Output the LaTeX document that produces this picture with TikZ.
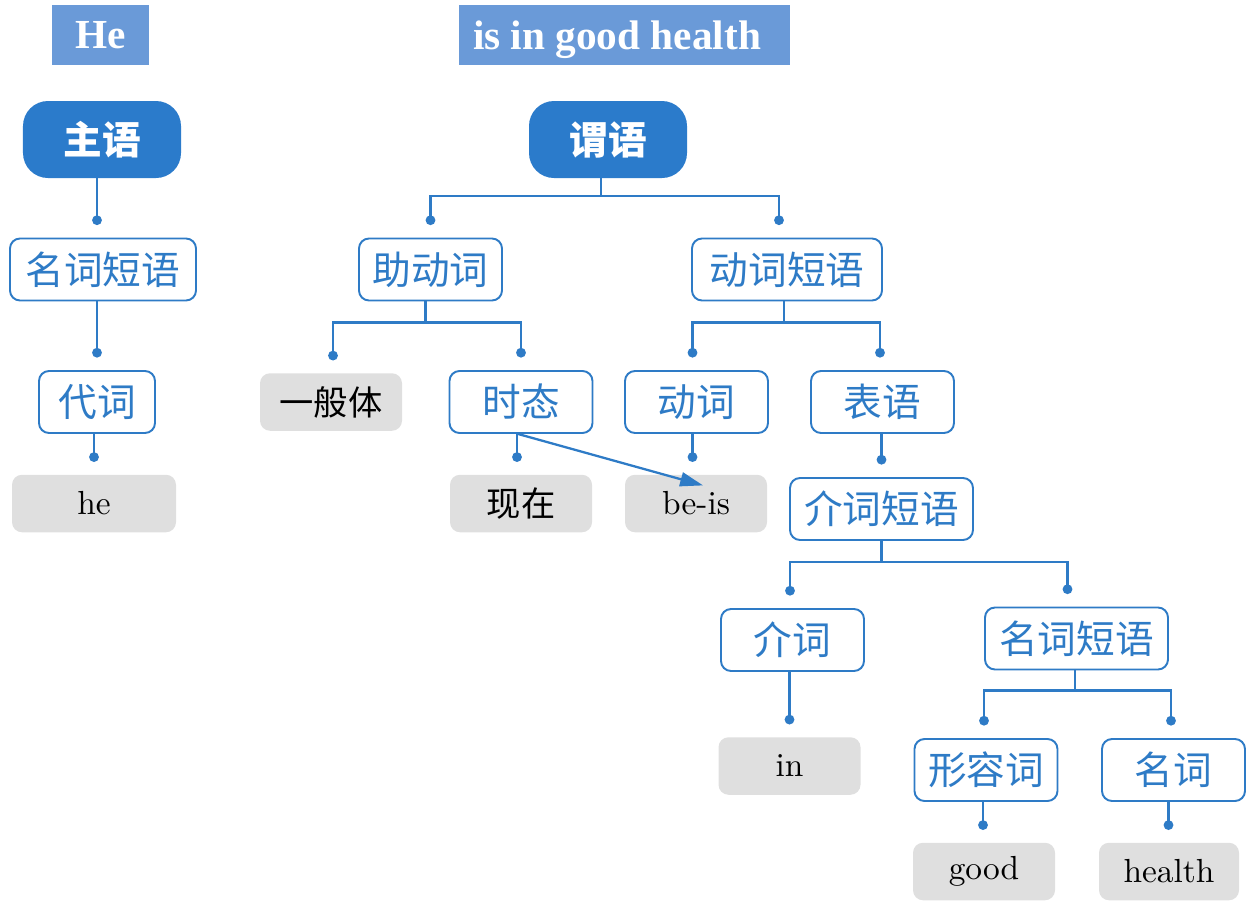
\documentclass[tikz,border=0pt]{standalone}
\usepackage{fontspec}
\usepackage{xcolor}
\usetikzlibrary{arrows.meta}
\newfontfamily\cjk{Noto Sans CJK SC}
\newfontfamily\headfont{Liberation Serif}
\newfontfamily\leaffont{lmroman10-regular}[Extension=.otf]
\definecolor{treeblue}{HTML}{2E7BC6}
\definecolor{darkblue}{HTML}{2B7BCB}
\definecolor{headblue}{HTML}{6A9AD8}
\definecolor{leafgray}{HTML}{DFDFDF}

\begin{document}
\begin{tikzpicture}[
    header/.style={fill=headblue, text=white, minimum height=1.2cm, inner sep=0pt, text depth=0pt,
      font=\headfont\bfseries\fontsize{23.5}{25}\selectfont},
    rootbox/.style={fill=darkblue, text=white, rounded corners=0.5cm, minimum width=3.16cm,
      minimum height=1.54cm, inner sep=0pt, font=\cjk\bfseries\fontsize{22}{24}\selectfont},
    catbox/.style={draw=treeblue, line width=1.1pt, fill=white, text=treeblue, rounded corners=0.2cm,
      minimum width=2.86cm, minimum height=1.24cm, inner sep=0pt, font=\cjk\fontsize{22}{24}\selectfont},
    leafbox/.style={fill=leafgray, text=black, rounded corners=0.2cm, minimum width=2.84cm,
      minimum height=1.15cm, inner sep=0pt, font=\leaffont\fontsize{19}{21}\selectfont},
    cnleaf/.style={leafbox, font=\cjk\fontsize{19.5}{21}\selectfont},
    conn/.style={draw=treeblue, line width=1.3pt, shorten >=0.25cm, -{Circle[length=5.5pt]}},
  ]
  \useasboundingbox (0,0) rectangle (25.14,-18.18);
  % Headers
  \node[header, minimum width=1.94cm] (hdrhe) at (2.01,-0.70) {He};
  \node[header, text width=6.06cm, inner xsep=0.28cm, align=flush left] (hdrpred) at (12.49,-0.70) {is in good health};
  % Subject side
  \node[rootbox] (zhuyu) at (2.04,-2.79) {主语};
  \node[catbox, minimum width=3.72cm] (mcdyA) at (2.06,-5.39) {名词短语};
  \node[catbox, minimum width=2.32cm] (daici) at (1.94,-8.04) {代词};
  \node[leafbox, minimum width=3.28cm] (he) at (1.88,-10.07) {he};
  % Predicate side
  \node[rootbox] (weiyu) at (12.16,-2.79) {谓语};
  \node[catbox] (zhudongci) at (8.61,-5.39) {助动词};
  \node[catbox, minimum width=3.80cm] (dcdy) at (15.74,-5.39) {动词短语};
  \node[cnleaf] (yibanti) at (6.62,-8.04) {一般体};
  \node[catbox] (shitai) at (10.42,-8.04) {时态};
  \node[catbox] (dongci) at (13.93,-8.04) {动词};
  \node[catbox] (biaoyu) at (17.65,-8.04) {表语};
  \node[cnleaf] (xianzai) at (10.42,-10.07) {现在};
  \node[leafbox] (beis) at (13.92,-10.07) {be-is};
  \node[catbox, minimum width=3.66cm] (jcdy) at (17.63,-10.18) {介词短语};
  \node[catbox] (jieci) at (15.85,-12.80) {介词};
  \node[catbox, minimum width=3.66cm] (mcdyB) at (21.53,-12.77) {名词短语};
  \node[leafbox] (in) at (15.79,-15.32) {in};
  \node[catbox] (xrc) at (19.72,-15.40) {形容词};
  \node[catbox] (mingci) at (23.47,-15.40) {名词};
  \node[leafbox] (good) at (19.68,-17.43) {good};
  \node[leafbox, minimum width=2.80cm] (health) at (23.38,-17.43) {health};
  % Straight links
  \draw[conn] ([xshift=-0.1cm]zhuyu.south) -- ([xshift=-0.1cm]zhuyu.south |- mcdyA.north);
  \draw[conn] (mcdyA.south -| daici.north) -- (daici.north);
  \draw[conn] ([xshift=-0.06cm]daici.south) -- ([xshift=-0.06cm]daici.south |- he.north);
  \draw[conn] ([xshift=-0.08cm]shitai.south) -- ([xshift=-0.08cm]shitai.south |- xianzai.north);
  \draw[conn] ([xshift=-0.08cm]dongci.south) -- ([xshift=-0.08cm]dongci.south |- beis.north);
  \draw[conn] (biaoyu.south -| jcdy.north) -- (jcdy.north);
  \draw[conn] ([xshift=-0.06cm]jieci.south) -- ([xshift=-0.06cm]jieci.south |- in.north);
  \draw[conn] ([xshift=-0.06cm]xrc.south) -- ([xshift=-0.06cm]xrc.south |- good.north);
  \draw[conn] ([xshift=-0.1cm]mingci.south) -- ([xshift=-0.1cm]mingci.south |- health.north);
  % Branching links
  \draw[conn] ([xshift=-0.14cm]weiyu.south) -- ++(0,-0.36) -| (zhudongci.north);
  \draw[conn] ([xshift=-0.14cm]weiyu.south) -- ++(0,-0.36) -| ([xshift=-0.16cm]dcdy.north);
  \draw[conn] ([xshift=-0.1cm]zhudongci.south) -- ++(0,-0.42) -| ([xshift=0.04cm]yibanti.north);
  \draw[conn] ([xshift=-0.1cm]zhudongci.south) -- ++(0,-0.42) -| (shitai.north);
  \draw[conn] ([xshift=-0.06cm]dcdy.south) -- ++(0,-0.42) -| ([xshift=-0.08cm]dongci.north);
  \draw[conn] ([xshift=-0.06cm]dcdy.south) -- ++(0,-0.42) -| ([xshift=-0.05cm]biaoyu.north);
  \draw[conn] (jcdy.south) -- ++(0,-0.42) -| ([xshift=-0.05cm]jieci.north);
  \draw[conn] (jcdy.south) -- ++(0,-0.42) -| ([xshift=-0.18cm]mcdyB.north);
  \draw[conn] ([xshift=-0.03cm]mcdyB.south) -- ++(0,-0.40) -| ([xshift=-0.04cm]xrc.north);
  \draw[conn] ([xshift=-0.03cm]mcdyB.south) -- ++(0,-0.40) -| ([xshift=-0.05cm]mingci.north);
  % Tense marks the verb
  \draw[treeblue, line width=1.3pt, -{Triangle[length=13pt,width=8pt]}]
    ([xshift=-0.06cm]shitai.south) -- ([xshift=0.14cm,yshift=-0.22cm]beis.north);
\end{tikzpicture}
\end{document}
